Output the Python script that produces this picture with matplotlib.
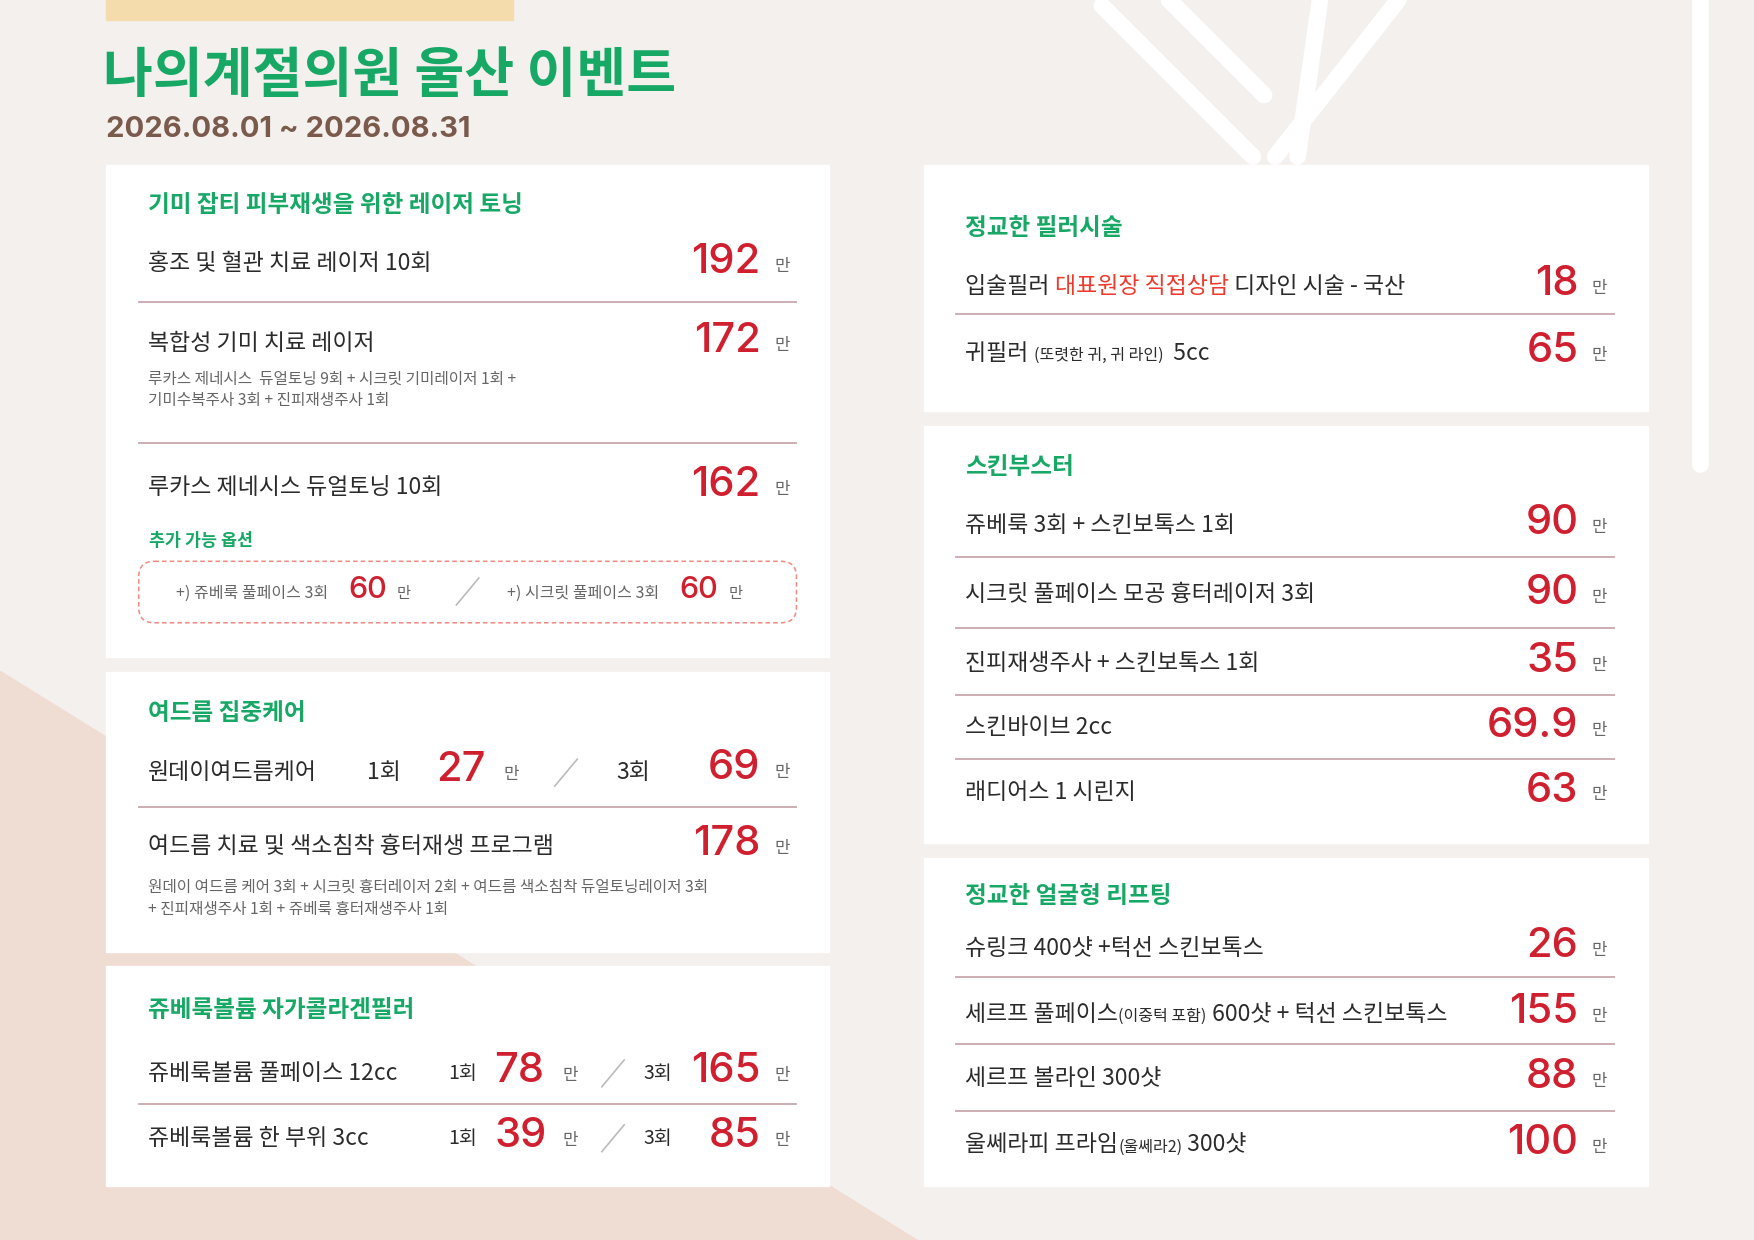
import matplotlib
matplotlib.use("Agg")
import matplotlib.pyplot as plt
from matplotlib.patches import Rectangle, FancyBboxPatch, Polygon

plt.rcParams['font.family'] = ['Noto Sans CJK KR', 'DejaVu Sans']

# ---------------- data ----------------
title = "나의계절의원 울산 이벤트"
period = "2026.08.01 ~ 2026.08.31"

sec1_title = "기미 잡티 피부재생을 위한 레이저 토닝"
sec1_items = ["홍조 및 혈관 치료 레이저 10회", "복합성 기미 치료 레이저", "루카스 제네시스 듀얼토닝 10회"]
sec1_prices = ["192", "172", "162"]
sec1_detail = ["루카스 제네시스  듀얼토닝 9회 + 시크릿 기미레이저 1회 +", "기미수복주사 3회 + 진피재생주사 1회"]
opt_title = "추가 가능 옵션"
opt_items = ["+) 쥬베룩 풀페이스 3회", "+) 시크릿 풀페이스 3회"]
opt_prices = ["60", "60"]

sec2_title = "여드름 집중케어"
sec2_item1 = "원데이여드름케어"
sec2_item1_prices = ["27", "69"]
sec2_item2 = "여드름 치료 및 색소침착 흉터재생 프로그램"
sec2_item2_price = "178"
sec2_detail = ["원데이 여드름 케어 3회 + 시크릿 흉터레이저 2회 + 여드름 색소침착 듀얼토닝레이저 3회",
               "+ 진피재생주사 1회 + 쥬베룩 흉터재생주사 1회"]

sec3_title = "쥬베룩볼륨 자가콜라겐필러"
sec3_items = ["쥬베룩볼륨 풀페이스 12cc", "쥬베룩볼륨 한 부위 3cc"]
sec3_p1 = ["78", "39"]
sec3_p3 = ["165", "85"]

r1_title = "정교한 필러시술"
r1_items = [[("입술필러 ", "n"), ("대표원장 직접상담", "r"), (" 디자인 시술 - 국산", "n")],
            [("귀필러 ", "n"), ("(또렷한 귀, 귀 라인)", "s"), ("  5cc", "n")]]
r1_prices = ["18", "65"]

r2_title = "스킨부스터"
r2_items = ["쥬베룩 3회 + 스킨보톡스 1회", "시크릿 풀페이스 모공 흉터레이저 3회",
            "진피재생주사 + 스킨보톡스 1회", "스킨바이브 2cc", "래디어스 1 시린지"]
r2_prices = ["90", "90", "35", "69.9", "63"]

r3_title = "정교한 얼굴형 리프팅"
r3_items = [[("슈링크 400샷 +턱선 스킨보톡스", "n")],
            [("세르프 풀페이스", "n"), ("(이중턱 포함)", "s"), (" 600샷 + 턱선 스킨보톡스", "n")],
            [("세르프 볼라인 300샷", "n")],
            [("울쎄라피 프라임", "n"), ("(울쎄라2)", "s"), (" 300샷", "n")]]
r3_prices = ["26", "155", "88", "100"]

unit = "만"

# ---------------- style ----------------
GREEN = "#17a866"
DARK = "#2b2b2b"
RED = "#d0202f"
GRAY = "#666666"
LINE = "#c9a7ab"
BG = "#f4f0ed"
NUMFONT = ['Inter', 'DejaVu Sans']

W, H = 1568, 1109
fig = plt.figure(figsize=(17.54, 12.40), dpi=100)
ax = fig.add_axes([0, 0, 1, 1])
ax.set_xlim(0, W)
ax.set_ylim(H, 0)
ax.axis("off")
fig.patch.set_facecolor(BG)

# background decorations
ax.add_patch(Polygon([(0, 600), (0, H), (820, H)], closed=True, color="#efdcd2", zorder=0))
for (x0, y0, x1, y1) in [(985, 5, 1120, 140), (1045, 0, 1130, 85), (1250, 0, 1140, 140),
                         (1180, 0, 1160, 140), (1520, 0, 1520, 415)]:
    ax.plot([x0, x1], [y0, y1], color="white", lw=12, solid_capstyle="round", zorder=0.5)
ax.add_patch(Rectangle((95, 0), 364, 18, color="#f5dcac", zorder=1))

ax.text(92, 68, title, fontsize=39, fontweight="bold", color=GREEN, va="center", ha="left")
ax.text(95, 116, period, fontsize=21, fontweight="bold", color="#7a5a4c", va="center", ha="left",
        family=NUMFONT)

# cards
for (x, y, w, h) in [(95, 148, 646, 440), (95, 601, 646, 250), (95, 864, 646, 197),
                     (826, 148, 647, 220), (826, 381, 647, 373), (826, 767, 647, 294)]:
    ax.add_patch(Rectangle((x, y), w, h, color="white", zorder=1))

renderer = fig.canvas.get_renderer()
inv = ax.transData.inverted()


def T(x, y, s, size=16.5, color=DARK, ha="left", weight="medium", family=None):
    kw = {}
    if family:
        kw["family"] = family
    return ax.text(x, y, s, fontsize=size, color=color, ha=ha, va="center", fontweight=weight,
                   zorder=3, **kw)


def segs(x, y, parts, size=16.5):
    for s, kind in parts:
        if kind == "s":
            t = T(x, y + 2, s, size=size * 0.7)
        elif kind == "r":
            t = T(x, y, s, size=size, color="#ee3a2c")
        else:
            t = T(x, y, s, size=size)
        bb = t.get_window_extent(renderer)
        x = inv.transform((bb.x1, bb.y0))[0]


def num(x, y, p, size=30, ha="left"):
    return T(x, y, p, size=size, color=RED, ha=ha, family=NUMFONT)


def price(xr, y, p, size=30):
    num(xr, y - 2, p, size=size, ha="right")
    T(xr + 12, y + 2, unit, size=12, color=GRAY, weight="normal")


def hline(x0, x1, y):
    ax.plot([x0, x1], [y, y], color=LINE, lw=1.3, zorder=2)


def slash(x, y):
    ax.plot([x - 10, x + 10], [y + 12, y - 12], color="#bbbbbb", lw=1.2, zorder=2)


# left card 1
T(132, 183, sec1_title, size=17, color=GREEN, weight="bold")
ys = [236, 307, 436]
for it, p, y in zip(sec1_items, sec1_prices, ys):
    T(132, y, it)
    price(680, y, p)
hline(124, 712, 270)
hline(124, 712, 396)
for i, d in enumerate(sec1_detail):
    T(132, 339 + 19 * i, d, size=11.3, color=GRAY, weight="normal")
T(133, 484, opt_title, size=12.5, color=GREEN, weight="bold")
ax.add_patch(FancyBboxPatch((124, 502), 588, 55, boxstyle="round,pad=0,rounding_size=14",
                            fill=False, ec="#ee8a80", ls=(0, (3, 2)), lw=1.1, zorder=2))
for it, p, x in zip(opt_items, opt_prices, [157, 453]):
    T(x, 531, it, size=11.5, color=GRAY, weight="normal")
    num(x + 154, 528, p, size=22)
    T(x + 198, 531, unit, size=11, color=GRAY, weight="normal")
slash(418, 529)

# left card 2
T(132, 638, sec2_title, size=17, color=GREEN, weight="bold")
T(132, 691, sec2_item1)
T(328, 691, "1회")
num(390, 689, sec2_item1_prices[0])
T(450, 693, unit, size=12, color=GRAY, weight="normal")
slash(506, 691)
T(551, 691, "3회")
price(680, 689, sec2_item1_prices[1])
hline(124, 712, 722)
T(132, 757, sec2_item2)
price(680, 757, sec2_item2_price)
for i, d in enumerate(sec2_detail):
    T(132, 794 + 19 * i, d, size=11.3, color=GRAY, weight="normal")

# left card 3
T(132, 903, sec3_title, size=17, color=GREEN, weight="bold")
for it, a, b, y in zip(sec3_items, sec3_p1, sec3_p3, [960, 1018]):
    T(132, y, it)
    T(401, y, "1회", size=14)
    num(442, y - 2, a)
    T(503, y + 2, unit, size=12, color=GRAY, weight="normal")
    slash(548, y)
    T(575, y, "3회", size=14)
    price(680, y, b)
hline(124, 712, 987)

# right card 1
T(863, 204, r1_title, size=17, color=GREEN, weight="bold")
for parts, p, y in zip(r1_items, r1_prices, [256, 316]):
    segs(863, y, parts)
    price(1411, y, p)
hline(855, 1443, 281)

# right card 2
T(863, 418, r2_title, size=17, color=GREEN, weight="bold")
for it, p, y in zip(r2_items, r2_prices, [470, 532, 593, 651, 709]):
    T(863, y, it)
    price(1411, y, p)
for y in [498, 562, 622, 679]:
    hline(855, 1443, y)

# right card 3
T(863, 801, r3_title, size=17, color=GREEN, weight="bold")
for parts, p, y in zip(r3_items, r3_prices, [848, 907, 965, 1024]):
    segs(863, y, parts)
    price(1411, y, p)
for y in [874, 934, 994]:
    hline(855, 1443, y)

fig.savefig("out.png", dpi=100, facecolor=fig.get_facecolor())
